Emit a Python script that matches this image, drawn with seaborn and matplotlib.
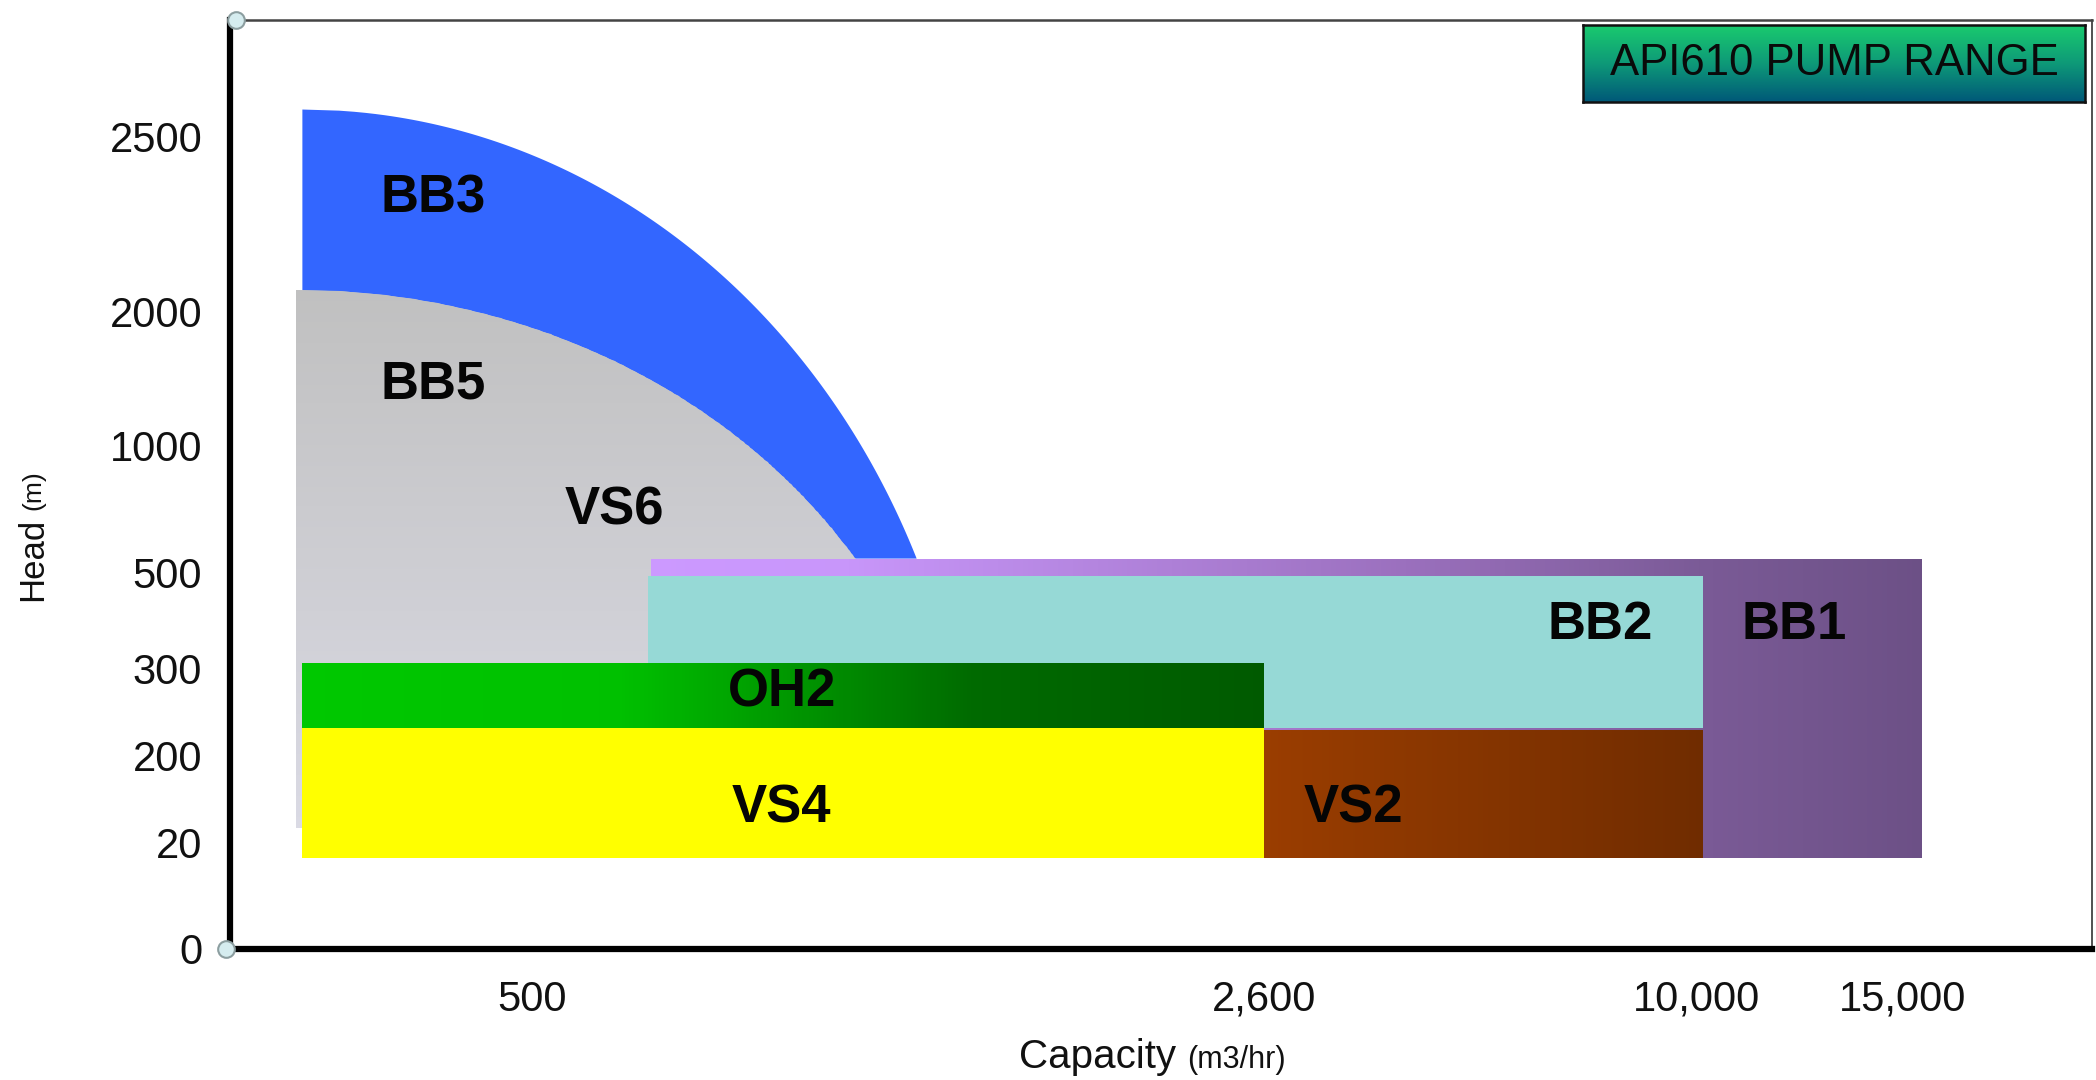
import numpy as np
import matplotlib
matplotlib.use("Agg")
import matplotlib.pyplot as plt
import seaborn as sns
from matplotlib.colors import LinearSegmentedColormap

# ---------------------------------------------------------------
# Axis break values and where each sits along its axis (the chart
# uses a stretched, non-uniform scale on both axes)
# ---------------------------------------------------------------
CAP_BREAKS = [0, 500, 2600, 10000, 15000, 20000]
CAP_BREAK_POS = [0, 226, 774, 1098, 1252, 1394]
HEAD_BREAKS = [0, 20, 200, 300, 500, 1000, 2000, 2500, 3000]
HEAD_BREAK_POS = [0, 80, 145, 210, 282, 377, 477, 608, 695]

CAP_TICKS = [500, 2600, 10000, 15000]
CAP_TICK_LABELS = ["500", "2,600", "10,000", "15,000"]
HEAD_TICKS = [0, 20, 200, 300, 500, 1000, 2000, 2500]
HEAD_TICK_LABELS = ["0", "20", "200", "300", "500", "1000", "2000", "2500"]

# ---------------------------------------------------------------
# Pump type ranges: capacity (m3/hr) x head (m)
# ---------------------------------------------------------------
RECT_NAMES = ["BB1", "BB2", "OH2", "VS4", "VS2"]
RECT_CAP_MIN = [841, 833, 120, 120, 2600]
RECT_CAP_MAX = [15520, 10150, 2600, 2600, 10150]
RECT_HEAD_MIN = [17, 231, 231, 17, 17]
RECT_HEAD_MAX = [553, 492, 311, 231, 229]

# curved envelopes (BB3 outer band, BB5/VS6 inner area)
ARC_NAMES = ["BB3", "BB5"]
ARC_CAP_MIN = [120, 110]
ARC_HEAD_MAX = [2615, 2061]
ARC_CAP_AT_BASE = [1604, 1427]
ARC_HEAD_BASE = [553, 553]
ARC_HEAD_MIN = [553, 50]

LABEL_NAMES = ["BB3", "BB5", "VS6", "BB2", "BB1", "OH2", "VS4", "VS2"]
LABEL_CAP = [336, 336, 738, 8356, 12370, 1217, 1217, 4130]
LABEL_HEAD = [2321, 1450, 742, 389, 389, 272, 89, 89]

ARC_CENTER_POS = 60  # height of the ellipse centre along the head axis


def cap_fwd(v):
    return np.interp(v, CAP_BREAKS, CAP_BREAK_POS)


def cap_inv(p):
    return np.interp(p, CAP_BREAK_POS, CAP_BREAKS)


def head_fwd(v):
    return np.interp(v, HEAD_BREAKS, HEAD_BREAK_POS)


def head_inv(p):
    return np.interp(p, HEAD_BREAK_POS, HEAD_BREAKS)


def ramp(name, stops):
    return LinearSegmentedColormap.from_list(name, stops)


def gradient_rect(ax, c0, c1, h0, h1, cmap, horizontal=True, z=1, clip=None, n=256):
    if horizontal:
        xe = cap_inv(np.linspace(cap_fwd(c0), cap_fwd(c1), n + 1))
        ye = np.array([h0, h1])
        vals = np.linspace(0, 1, n)[None, :]
    else:
        xe = np.array([c0, c1])
        ye = head_inv(np.linspace(head_fwd(h0), head_fwd(h1), n + 1))
        vals = np.linspace(0, 1, n)[:, None]
    mesh = ax.pcolormesh(xe, ye, vals, cmap=cmap, vmin=0, vmax=1, shading="flat",
                         zorder=z, edgecolors="none", antialiased=False)
    if clip is not None:
        mesh.set_clip_path(clip)
    return mesh


def arc_outline(cap_min, head_max, cap_base, head_base, head_low, n=400):
    xl = cap_fwd(cap_min)
    yt = head_fwd(head_max)
    xb = cap_fwd(cap_base)
    yb = head_fwd(head_base)
    yl = head_fwd(head_low)
    yc = ARC_CENTER_POS
    b = yt - yc
    a = (xb - xl) / np.sqrt(1 - ((yb - yc) / b) ** 2)
    ys = np.linspace(yt, max(yl, yc), n)
    xs = xl + a * np.sqrt(np.clip(1 - ((ys - yc) / b) ** 2, 0, None))
    if yl < yc:
        xs = np.append(xs, xs[-1])
        ys = np.append(ys, yl)
    px = np.concatenate([[xl], xs, [xl]])
    py = np.concatenate([[yt], ys, [yl]])
    return cap_inv(px), head_inv(py)


sns.set_theme(style="white")
plt.rcParams["font.family"] = ["Liberation Sans", "DejaVu Sans"]

fig = plt.figure(figsize=(20.96, 10.8), dpi=100)
ax = fig.add_axes([0.1097, 0.1213, 0.8884, 0.8602])
ax.set_xscale("function", functions=(cap_fwd, cap_inv))
ax.set_yscale("function", functions=(head_fwd, head_inv))
ax.set_xlim(0, 20000)
ax.set_ylim(0, 3000)

# --- curved envelopes ---
i3 = ARC_NAMES.index("BB3")
bx, by = arc_outline(ARC_CAP_MIN[i3], ARC_HEAD_MAX[i3], ARC_CAP_AT_BASE[i3],
                     ARC_HEAD_BASE[i3], ARC_HEAD_MIN[i3])
ax.fill(bx, by, color="#3366FF", lw=0, zorder=1)

i5 = ARC_NAMES.index("BB5")
gx, gy = arc_outline(ARC_CAP_MIN[i5], ARC_HEAD_MAX[i5], ARC_CAP_AT_BASE[i5],
                     ARC_HEAD_BASE[i5], ARC_HEAD_MIN[i5])
gpoly = ax.fill(gx, gy, color="#C8C8CC", lw=0, zorder=2)[0]
gradient_rect(ax, ARC_CAP_MIN[i5], ARC_CAP_AT_BASE[i5] * 2, ARC_HEAD_MIN[i5], ARC_HEAD_MAX[i5],
              ramp("bb5", ["#DADAE4", "#C0C0C0"]), horizontal=False, z=2.1, clip=gpoly)

# --- rectangular ranges ---
purple = ramp("bb1", [(0, "#CC99FF"), (0.15, "#C896FA"), (0.59, "#9B70BE"),
                      (0.83, "#7A5A96"), (1, "#6C5086")])
green = ramp("oh2", [(0, "#00C800"), (0.33, "#00C000"), (0.7, "#006A00"), (1, "#005A00")])
brown = ramp("vs2", ["#9A3D00", "#702C00"])

k = RECT_NAMES.index("BB1")
gradient_rect(ax, RECT_CAP_MIN[k], RECT_CAP_MAX[k], RECT_HEAD_MIN[k], RECT_HEAD_MAX[k], purple, z=3)

k = RECT_NAMES.index("BB2")
ax.bar(RECT_CAP_MIN[k], RECT_HEAD_MAX[k] - RECT_HEAD_MIN[k], width=RECT_CAP_MAX[k] - RECT_CAP_MIN[k],
       bottom=RECT_HEAD_MIN[k], align="edge", color="#96D9D6", lw=0, zorder=4)

k = RECT_NAMES.index("OH2")
gradient_rect(ax, RECT_CAP_MIN[k], RECT_CAP_MAX[k], RECT_HEAD_MIN[k], RECT_HEAD_MAX[k], green, z=5)

k = RECT_NAMES.index("VS4")
ax.bar(RECT_CAP_MIN[k], RECT_HEAD_MAX[k] - RECT_HEAD_MIN[k], width=RECT_CAP_MAX[k] - RECT_CAP_MIN[k],
       bottom=RECT_HEAD_MIN[k], align="edge", color="#FFFF00", lw=0, zorder=6)

k = RECT_NAMES.index("VS2")
gradient_rect(ax, RECT_CAP_MIN[k], RECT_CAP_MAX[k], RECT_HEAD_MIN[k], RECT_HEAD_MAX[k], brown, z=6)

# --- region names ---
for name, c, h in zip(LABEL_NAMES, LABEL_CAP, LABEL_HEAD):
    ax.text(c, h, name, ha="center", va="center", fontsize=38, fontweight="bold",
            color="#050505", zorder=10)

# --- axes styling ---
ax.set_xticks(CAP_TICKS, CAP_TICK_LABELS)
ax.set_yticks(HEAD_TICKS, HEAD_TICK_LABELS)
ax.minorticks_off()
ax.tick_params(axis="x", length=0, pad=22, labelsize=30, labelcolor="#111111")
ax.tick_params(axis="y", length=0, pad=20, labelsize=30, labelcolor="#111111")
ax.grid(False)
ax.spines["left"].set(linewidth=4.5, color="black", zorder=12)
ax.spines["bottom"].set(linewidth=4.5, color="black", zorder=12)
ax.spines["top"].set(linewidth=1.8, color="#444444")
ax.spines["right"].set(linewidth=1.2, color="#333333")
for xa, ya in [(0.003, 1.0), (-0.002, 0.0)]:
    ax.plot([xa], [ya], "o", transform=ax.transAxes, clip_on=False, ms=12,
            mfc="#d5ecef", mec="#8c9ea0", mew=1.5, zorder=20)

# axis titles
fig.text(0.5611, 0.0111, "Capacity", ha="right", va="baseline", fontsize=29, color="#111111")
fig.text(0.5663, 0.0111, "(m3/hr)", ha="left", va="baseline", fontsize=22, color="#111111")
fig.text(0.0157, 0.482, "Head", ha="center", va="center", rotation=90, fontsize=25, color="#111111")
fig.text(0.0157, 0.546, "(m)", ha="center", va="center", rotation=90, fontsize=19, color="#111111")

# title box
bax = fig.add_axes([0.7553, 0.9056, 0.2395, 0.0713])
bax.imshow(np.linspace(0, 1, 256)[:, None], aspect="auto", extent=[0, 1, 0, 1],
           cmap=ramp("box", [(0, "#1ACC6E"), (0.5, "#0E9A78"), (1, "#005878")]))
bax.set_xticks([])
bax.set_yticks([])
for s in bax.spines.values():
    s.set(linewidth=1.8, color="#111111", visible=True)
bax.text(0.5, 0.5, "API610 PUMP RANGE", ha="center", va="center", fontsize=31.5,
         color="#0a0a0a", transform=bax.transAxes)

fig.savefig("out.png", dpi=100)
